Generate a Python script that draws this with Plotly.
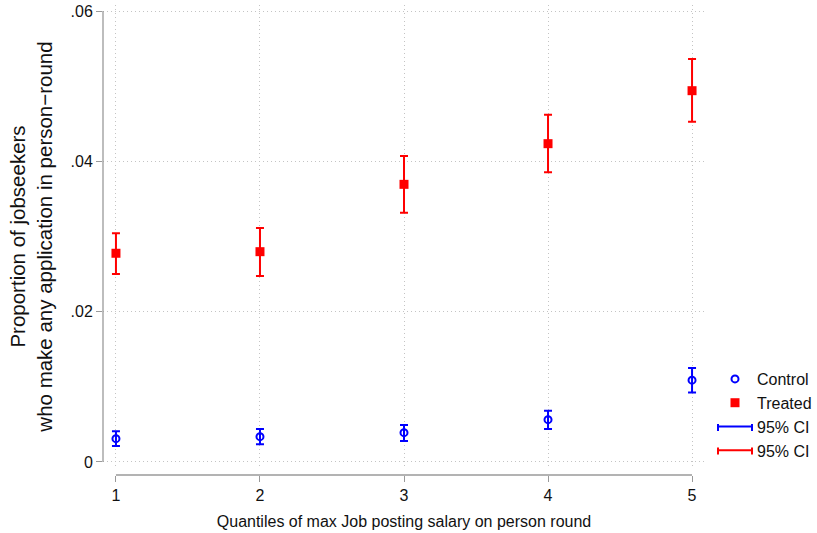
import plotly.graph_objects as go

quantiles = [1, 2, 3, 4, 5]

control_mean = [0.0031, 0.00337, 0.0039, 0.00563, 0.01089]
control_hi = [0.00408, 0.00439, 0.00492, 0.00683, 0.01251]
control_lo = [0.00213, 0.00235, 0.00279, 0.00439, 0.00925]

treated_mean = [0.02777, 0.02798, 0.03694, 0.04235, 0.0494]
treated_hi = [0.03043, 0.03113, 0.04071, 0.04621, 0.05362]
treated_lo = [0.02501, 0.02475, 0.03317, 0.03854, 0.04528]

ytick_vals = [0, 0.02, 0.04, 0.06]
ytick_text = ["0", ".02", ".04", ".06"]
xtick_vals = [1, 2, 3, 4, 5]
xtick_text = ["1", "2", "3", "4", "5"]

BLUE = "#0000ff"
RED = "#ff0000"
GRID = "#c4c4c4"
AXIS = "#9a9a9a"
FONT = "Liberation Sans, Arial, sans-serif"

W, H = 817, 533
ML, MR, MT, MB = 103, 112, 5, 58
LEG_X0 = 713      # legend origin (px)
LEG_ITEMW = 34    # legend symbol width (px)

fig = go.Figure()

fig.add_trace(go.Scatter(
    x=quantiles, y=control_mean, mode="markers", name="Control",
    marker=dict(symbol="circle-open", size=7, color=BLUE, line=dict(width=2, color=BLUE)),
    error_y=dict(type="data", symmetric=False,
                 array=[h - m for h, m in zip(control_hi, control_mean)],
                 arrayminus=[m - l for m, l in zip(control_mean, control_lo)],
                 color=BLUE, thickness=2, width=4),
    legendgroup="a",
))
fig.add_trace(go.Scatter(
    x=quantiles, y=treated_mean, mode="markers", name="Treated",
    marker=dict(symbol="square", size=9, color=RED),
    error_y=dict(type="data", symmetric=False,
                 array=[h - m for h, m in zip(treated_hi, treated_mean)],
                 arrayminus=[m - l for m, l in zip(treated_mean, treated_lo)],
                 color=RED, thickness=2, width=4),
    legendgroup="b",
))
fig.add_trace(go.Scatter(
    x=[None], y=[None], mode="lines", name="95% CI",
    line=dict(color=BLUE, width=2), legendgroup="c",
))
fig.add_trace(go.Scatter(
    x=[None], y=[None], mode="lines", name="95% CI",
    line=dict(color=RED, width=2), legendgroup="d",
))

# Stata-style axis lines spanning only the tick range
fig.add_shape(type="line", xref="x", yref="paper", x0=1, x1=5, y0=0, y1=0,
              line=dict(color=AXIS, width=1.3))
fig.add_shape(type="line", xref="paper", yref="y", x0=0, x1=0, y0=0, y1=0.06,
              line=dict(color=AXIS, width=1.3))

# end caps on the "95% CI" legend keys
pw = W - ML - MR
ph = H - MT - MB
def px_x(p):
    return (p - ML) / pw
def px_y(p):
    return (H - MB - p) / ph
for row_y, col in [(427.5, BLUE), (451.0, RED)]:
    for cap_x in (LEG_X0 + 5, LEG_X0 + 5 + LEG_ITEMW):
        fig.add_shape(type="line", xref="paper", yref="paper",
                      x0=px_x(cap_x), x1=px_x(cap_x),
                      y0=px_y(row_y - 3.5), y1=px_y(row_y + 3.5),
                      line=dict(color=col, width=2))

fig.update_layout(
    width=W, height=H,
    margin=dict(l=ML, r=MR, t=MT, b=MB, autoexpand=False),
    paper_bgcolor="white", plot_bgcolor="white",
    font=dict(family=FONT, size=16, color="#111111"),
    showlegend=True,
    legend=dict(x=px_x(LEG_X0), y=0.2404, xanchor="left", yanchor="top",
                font=dict(size=16, color="#111111"),
                traceorder="grouped", tracegroupgap=0, itemwidth=LEG_ITEMW,
                bgcolor="rgba(0,0,0,0)"),
    xaxis=dict(
        range=[0.91, 5.09], tickvals=xtick_vals, ticktext=xtick_text,
        showline=False, zeroline=False, automargin=False,
        ticks="outside", ticklen=6, tickcolor=AXIS, tickwidth=1.3,
        showgrid=True, gridcolor=GRID, griddash="1px,3px", gridwidth=1,
        anchor="free", position=0,
        title=dict(text="Quantiles of max Job posting salary on person round",
                   font=dict(size=16), standoff=12),
        tickfont=dict(size=16),
    ),
    yaxis=dict(
        domain=[7 / 470, 1],
        range=[-0.0008, 0.0608], tickvals=ytick_vals, ticktext=ytick_text,
        showline=False, zeroline=False, automargin=False,
        ticks="outside", ticklen=6, tickcolor=AXIS, tickwidth=1.3,
        showgrid=True, gridcolor=GRID, griddash="1px,3px", gridwidth=1,
        ticklabeloverflow="allow",
        title=dict(text="Proportion of jobseekers<br>who make any application in person\u2212round",
                   font=dict(size=20.5), standoff=12),
        tickfont=dict(size=16),
    ),
)

fig.write_html(
    "out.html",
    config={"displayModeBar": False},
    post_script="document.body.style.margin='0';document.body.style.overflow='hidden';",
)
